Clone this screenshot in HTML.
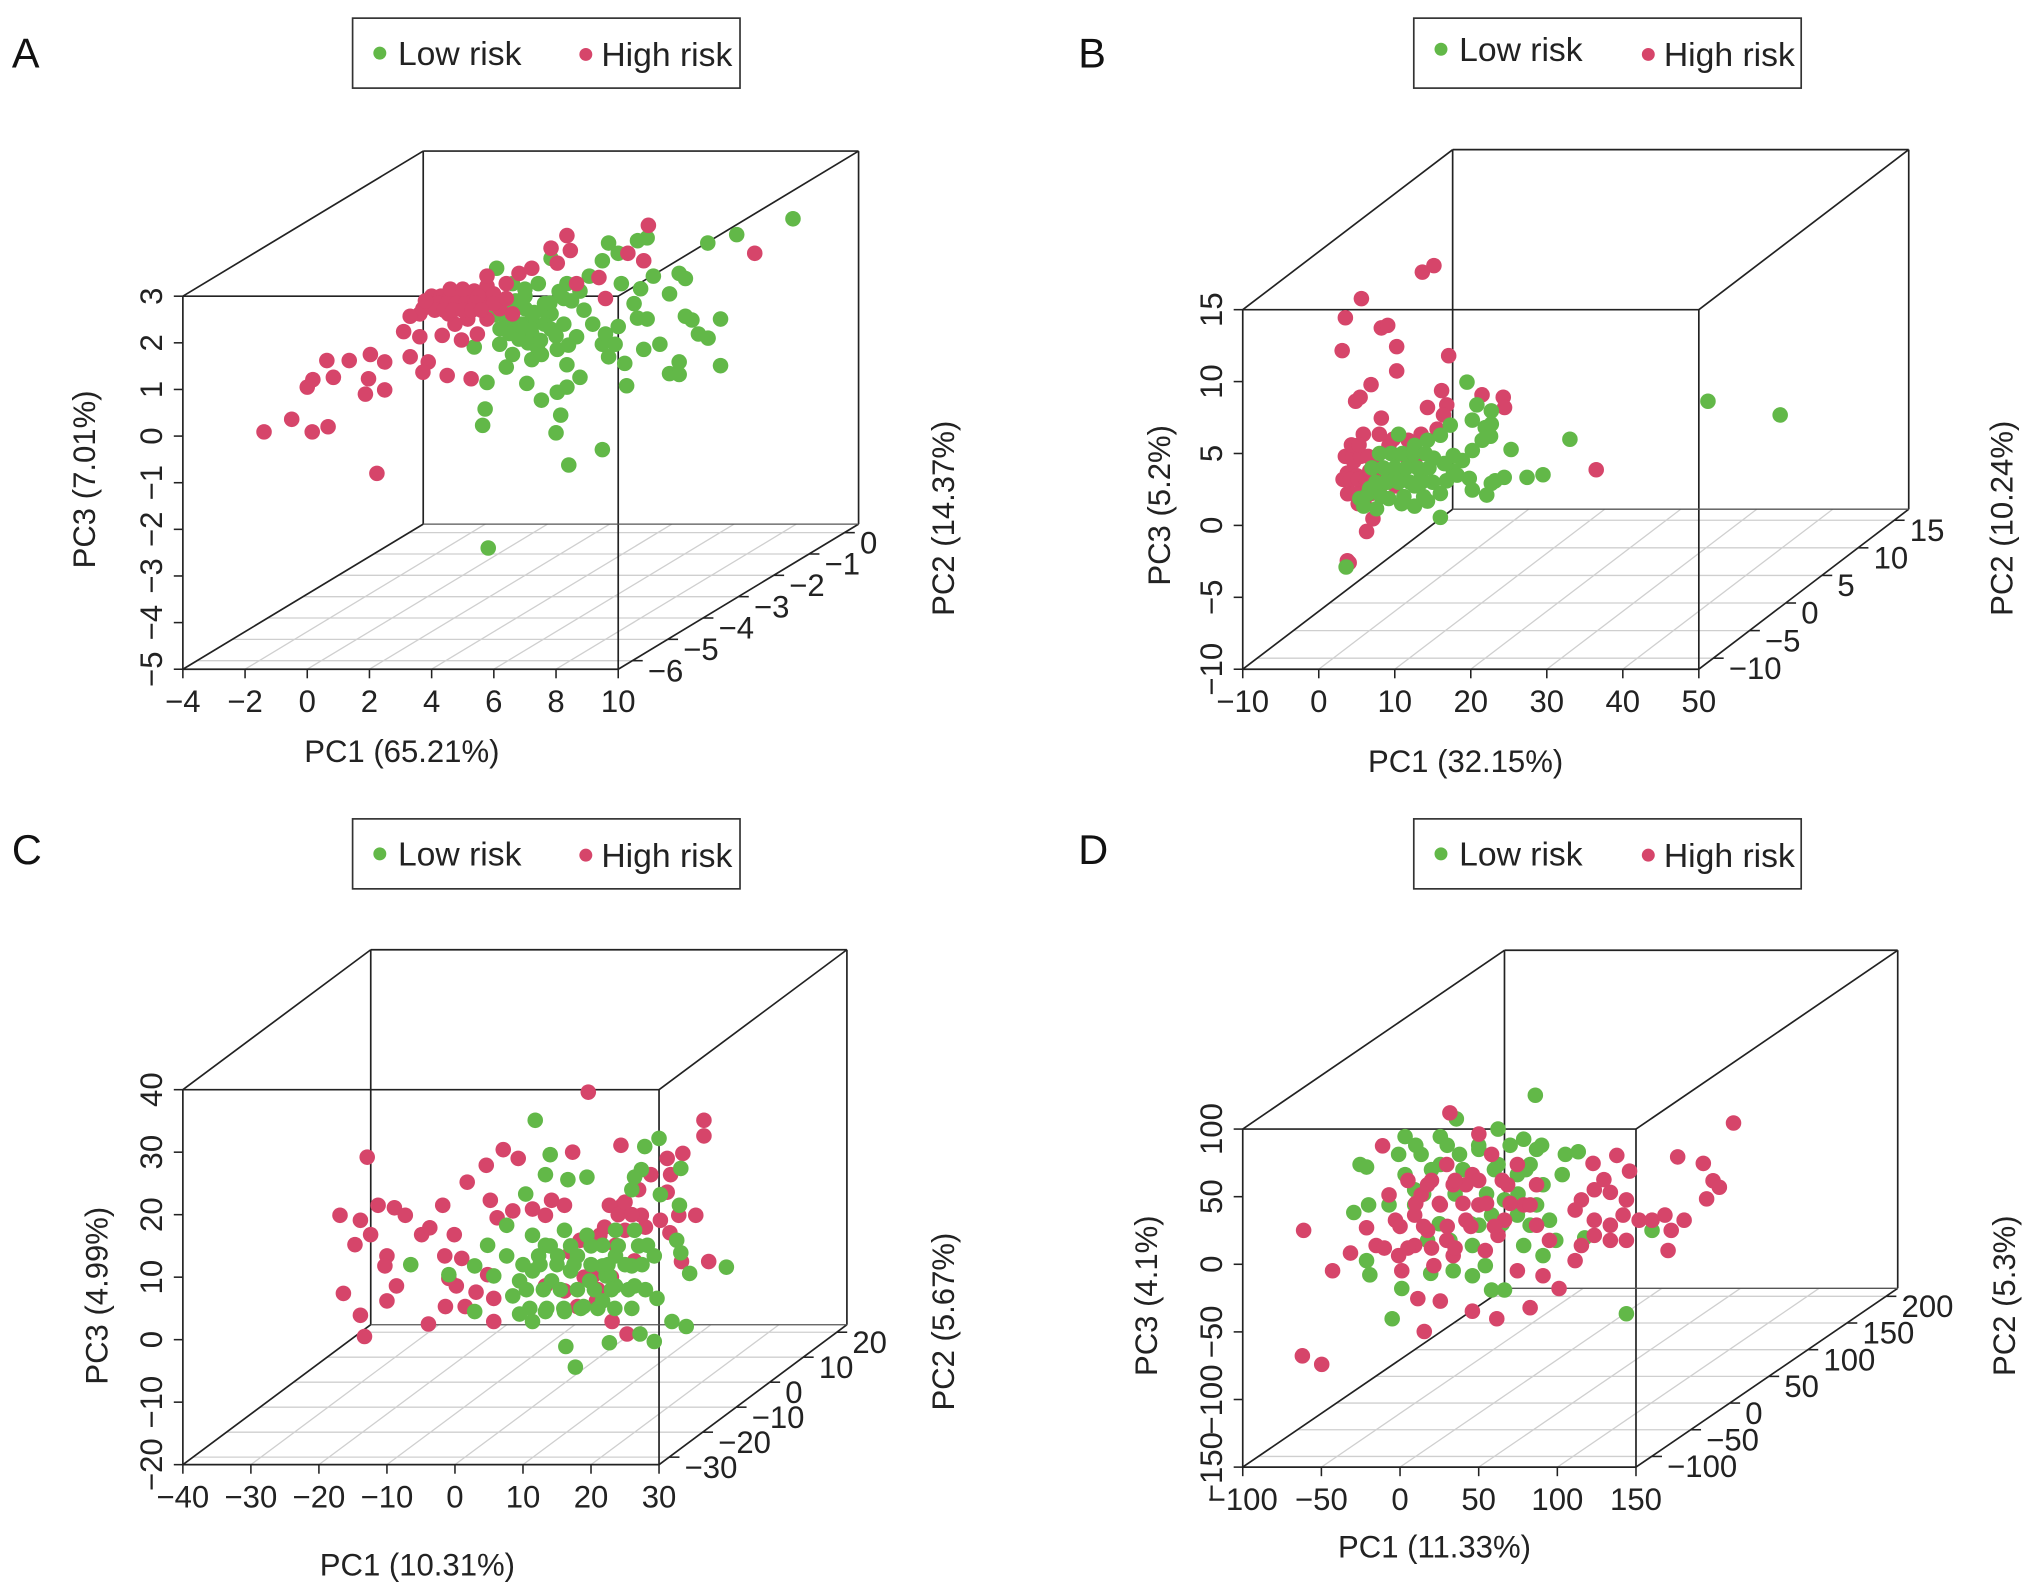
<!DOCTYPE html>
<html><head><meta charset="utf-8">
<style>
html,body{margin:0;padding:0;background:#fff;}
svg{display:block;font-family:"Liberation Sans",Arial,sans-serif;}
</style></head>
<body>
<svg id="fig" xmlns="http://www.w3.org/2000/svg" width="2032" height="1595" viewBox="0 0 1568 1231">
<rect x="0" y="0" width="1568" height="1231" fill="#fff"/>
</svg>
<script>
// ---- Panel A data ----
const aLowPC1=[15.62,13.81,12.88,11.96,12.16,11.65,13.29,12.37,12.58,12.89,12.16,11.34,10.82,13.29,11.96,11.65,11.96,10.27,10.21,9.69,9.49,10.62,10.93,10.0,10.51,11.13,10.72,10.10,9.69,10.0,10.62,10.93,9.49,9.07,8.77,8.35,8.25,7.84,8.25,8.66,8.04,7.53,7.22,8.35,8.77,8.35,8.04,7.53,8.15,8.0,9.49,8.41,5.78,5.72,5.64,7.06,6.40,6.60,5.37,6.19,7.22,6.81,7.01,7.63,7.43,6.60,6.09,7.84,9.18,9.59,9.90,5.82,7.22,7.63,6.81,6.40,7.84,
 6.3,6.6,6.9,7.2,6.5,6.8,7.1,7.4,6.2,6.7,7.0,7.6,6.4,6.9,7.3,7.8,8.1,8.5,8.9,6.0,6.2,7.5,8.0,8.4,6.6,7.0];
const aLowPC3=[4.66,4.32,4.14,3.49,3.38,3.05,2.51,2.49,2.19,2.10,2.57,1.97,1.86,1.51,1.59,1.34,1.32,1.08,1.56,1.70,1.97,2.53,2.51,2.35,2.84,3.43,3.16,3.27,4.14,3.92,4.19,4.25,3.76,3.43,3.11,3.27,2.95,2.62,2.40,2.13,1.86,1.75,1.64,1.53,1.26,1.05,0.94,0.77,0.45,0.07,-0.29,-0.62,1.15,0.58,0.23,1.13,1.48,1.75,1.91,1.97,2.19,2.40,2.73,2.84,3.27,3.27,3.60,3.81,2.40,2.19,1.97,-2.40,2.51,2.40,2.08,2.29,2.29,
 2.6,2.5,2.4,2.3,2.2,2.1,2.0,1.9,2.8,2.9,3.0,2.7,2.45,2.35,2.65,2.85,3.1,2.9,2.7,2.6,2.3,2.05,2.15,1.95,2.75,3.15];
const aHighPC1=[-1.39,-0.5,0.16,0.67,2.24,0.0,0.18,0.84,0.63,1.35,2.03,2.49,1.97,1.87,2.49,3.31,3.89,3.72,4.50,5.27,3.10,3.62,4.34,4.96,5.47,3.62,4.13,3.31,4.54,4.96,5.78,6.40,6.81,7.22,7.84,8.35,8.46,8.04,9.38,10.31,10.82,10.97,14.39,6.19,6.60,5.37,5.78,4.96,5.57,5.99,4.34,5.16,4.75,3.72,8.66,9.59,4.75,5.37,5.99,6.40,4.54,5.78,
 4.0,4.3,4.6,4.9,5.2,5.5,3.9,4.2,4.5,4.8,5.1,5.4,4.1,4.4,4.7,5.0,5.3,5.6,3.8,4.6,5.0];
const aHighPC3=[0.09,0.36,0.09,0.2,-0.8,1.05,1.21,1.26,1.62,1.62,1.75,1.59,1.23,0.9,0.99,1.70,1.59,1.37,1.30,1.23,2.24,2.13,2.16,2.06,2.19,2.62,2.78,2.57,3.05,3.11,3.22,3.27,3.49,3.60,4.03,4.30,3.98,3.71,3.40,3.92,3.76,4.52,3.92,2.73,2.62,2.84,2.51,2.73,2.95,3.05,2.95,2.51,2.40,2.73,3.27,2.95,2.84,3.11,2.84,2.95,2.62,3.43,
 3.0,3.0,3.0,3.0,3.0,3.0,2.85,2.85,2.85,2.85,2.85,2.85,2.7,2.7,2.7,2.7,2.7,2.7,2.9,3.15,3.15];
// ---- Panel B data ----
const bLowPC1=[51.2,60.7,33.04,29.5,27.4,24.4,23.2,22.7,25.3,22.1,20.2,19.8,19.5,22.7,20.8,20.2,22.6,21.5,20.2,18.9,17.7,16.8,16.0,14.3,12.6,10.9,9.2,8.0,6.7,5.4,5.9,7.6,10.5,12.6,14.3,16.0,17.3,10.1,11.8,13.5,15.1,9.2,10.9,12.6,16.0,3.6,21.9,22.7,17.7,
 7.0,8.5,10.0,11.5,13.0,14.5,7.5,9.0,10.5,12.0,13.5,15.0,8.0,9.5,11.0,12.5,14.0,6.5,8.2,11.2,13.8,16.5,18.2];
const bLowPC3=[8.63,7.68,5.99,3.52,3.34,3.34,3.10,2.92,5.28,2.11,2.46,3.27,9.96,7.96,8.38,7.32,6.2,5.92,5.21,4.51,3.80,3.10,2.22,1.69,1.34,1.51,1.87,2.22,2.57,1.87,1.34,1.16,6.34,5.56,5.92,6.27,6.97,4.86,4.16,3.63,4.68,3.45,3.45,2.75,0.56,-2.89,6.8,7.04,4.86,
 4.0,4.0,4.0,4.0,4.0,4.0,3.0,3.0,3.0,3.0,3.0,3.0,5.0,5.0,5.0,5.0,5.0,2.2,2.0,2.0,2.0,4.3,3.5];
const bHighPC1=[15.15,13.63,5.61,3.50,8.23,9.07,10.25,3.08,17.09,10.25,6.88,5.44,4.85,16.16,21.48,24.27,24.44,16.84,14.30,16.41,8.23,5.86,7.97,13.46,15.57,11.77,36.5,4.6,3.76,5.02,6.71,8.82,5.86,7.97,5.19,6.03,7.13,6.29,3.76,4.0,9.24,11.35,12.62,10.08,7.55,
 3.5,4.5,5.5,6.5,3.2,4.2,5.2,6.2,7.2,3.8,4.8,5.8,6.8,4.3,5.3,9.8,12.0];
const bHighPC3=[18.06,17.61,15.77,14.44,13.73,13.91,12.43,12.15,11.80,10.74,9.79,8.91,8.63,9.37,9.08,8.91,8.20,8.38,8.20,7.68,7.46,6.34,6.34,6.34,6.69,5.92,3.87,4.44,3.63,3.45,3.80,3.63,2.75,2.57,1.51,1.41,0.46,-0.42,-2.46,-2.6,5.56,4.86,4.51,2.75,4.68,
 4.8,4.8,4.8,4.8,3.2,3.2,3.2,3.2,3.2,2.2,2.2,2.2,2.2,5.6,5.6,6.0,5.2];
// ---- Panel C data ----
const cLowPC1=[11.8,39.9,34.0,31.9,17.7,16.3,22.7,27.2,-6.5,-0.9,2.9,30.0,27.9,33.2,27.4,26.4,26.0,30.2,19.4,16.6,14.0,13.3,10.4,7.6,11.4,13.3,16.1,19.4,21.7,23.6,26.0,28.3,29.3,32.6,33.2,34.5,33.0,29.7,26.4,23.6,21.7,18.9,16.1,13.3,11.4,9.5,8.5,9.5,11.4,14.2,17.0,19.8,22.7,5.7,7.6,4.8,2.9,29.3,22.2,18.0,15.1,12.3,21.7,23.6,26.4,
 10,12.5,15,17.5,20,22.5,25,27.5,10.5,13,15.5,18,20.5,23,25.5,28,11,13.5,16,18.5,21,23.5,26,14,17,20,24,27];
const cLowPC3=[35.1,11.6,2.1,2.9,-4.4,-1.1,-0.5,0.9,12.0,10.4,4.5,32.2,30.9,27.4,27.2,26.0,24.0,23.2,26.0,25.6,29.6,26.4,23.3,18.3,16.7,15.1,17.5,16.7,15.1,13.4,11.8,15.1,13.4,15.9,13.9,10.6,21.5,6.6,8.6,8.6,6.2,5.3,4.5,4.5,2.9,4.1,7.0,9.4,11.0,9.4,11.0,9.4,10.2,10.2,13.4,15.1,11.8,-0.3,10.2,13.4,13.4,13.4,11.8,17.5,17.5,
 12,12,12,12,12,12,12,12,8,8,8,8,8,8,8,8,5,5,5,5,5,5,5,15,15,15,15,15];
const cHighPC1=[19.6,36.6,36.6,-12.9,7.1,9.3,4.6,1.8,17.3,24.4,31.2,33.5,31.7,28.8,-16.9,-13.9,-11.3,-8.9,-7.3,-12.4,-14.7,-10.0,-10.3,-8.6,-10.0,-16.4,-13.9,-13.3,-4.9,-3.7,-1.8,-0.1,-1.5,1.0,-0.9,0.2,-3.9,-1.4,1.5,3.1,5.7,5.2,6.2,8.5,11.4,14.2,16.1,13.3,4.8,5.7,31.2,32.9,35.4,37.3,33.3,31.6,30.2,27.4,24.6,22.7,23.1,25.3,20.8,18.0,20.3,16.1,13.3,21.3,18.4,23.6,26.4,25.0,
 24,26,28,22,25,27,23,19,21,17];
const cHighPC3=[39.6,35.1,32.6,29.2,30.4,29.0,27.9,25.2,30.0,31.1,29.0,29.8,26.4,26.4,19.9,19.1,21.5,21.1,19.9,16.8,15.2,13.4,11.8,8.6,6.2,7.4,3.9,0.5,16.8,17.9,21.5,16.8,13.4,13.0,9.8,8.6,2.5,5.3,5.3,7.6,6.6,22.3,19.5,20.6,20.9,22.3,21.5,19.9,10.4,2.9,23.6,19.9,19.9,12.5,12.5,17.1,19.1,19.9,21.5,21.5,2.9,0.9,6.2,5.3,10.2,7.8,8.6,16.7,15.9,15.1,12.6,17.5,
 20,20,18,18,22,24,10,10,8,14];
// ---- Panel D data ----
const dLowPC1=[86,143.9,-5,1.1,58.2,66.4,-25.4,-21.3,-29.4,-20,-21.3,-19.2,3.2,25.6,35.8,62.3,78.6,86.8,113.3,105.1,103.1,90.9,86.8,95,99,90.9,78.6,82.7,74.6,66.4,58.2,50.1,46,54.2,33.8,19.5,17.5,9.3,3.2,-0.9,13.4,25.6,37.8,50.1,62.3,74.6,82.7,160.2,117.4,46,31.7,-7,9.3,
 10,30,50,70,90,20,40,60,80,15,35,55,75,25,45,65];
const dLowPC3=[125,-36.6,-40.3,-17.9,-19.0,-19.0,73.8,71.9,38.3,43.9,2.7,-7.8,94.4,94.4,107.5,100,92.5,85,83.2,81.3,66.3,58.8,43.9,32.6,17.7,6.4,13.9,28.9,36.4,47.6,36.4,28.9,13.9,-1.0,-4.8,-6.7,17.7,43.9,66.3,81.3,81.3,73.8,81.3,85.0,73.8,66.3,73.8,25.1,19.5,-8.5,17.7,43.9,55.1,
 88,88,88,88,88,70,70,70,70,52,52,52,52,30,30,30];
const dHighPC1=[212,31.7,176.5,192.8,199,203,194.9,137.8,145.9,122.7,129.6,123.5,133.7,143.9,115.3,111.3,123.5,133.7,141.8,152,160.2,168.4,180.6,172.4,170.4,143.9,133.7,123.5,115.3,111.3,101.1,-61.3,-42.9,-31.5,-62.1,-49.8,-11.1,-21.3,-15.2,-0.9,1.1,11.3,25.6,15.4,46,61.5,82.7,74.6,90.9,95,86.8,78.6,68.4,58.2,50.1,46,33.8,25.6,13.4,9.3,17.5,29.7,41.9,50.1,62.3,54.2,33.8,21.5,9.3,-2.9,-7,66.4,82.7,86.8,74.6,29.7,17.5,41.9,
 5,20,35,50,65,10,25,40,55,70,0,15,30,45,60,-10,5,20,35];
const dHighPC3=[104.5,112,79.4,74.6,61.8,57,48.4,80.5,68.9,74.6,62.6,55.1,53.2,47.6,47.6,40.1,32.6,28.9,36.4,32.6,32.6,36.4,32.6,25.1,10.2,17.7,17.7,21.4,13.9,2.7,-17.9,25.1,-4.8,8.3,-67.7,-74.0,87.6,27.0,13.9,6.4,-4.8,-25.4,-27.2,-49.7,-34.7,-40.3,-32.1,-4.8,-8.5,17.7,28.9,43.9,58.8,81.3,96.3,66.3,58.8,43.9,51.3,36.4,25.1,17.7,32.6,43.9,21.4,10.2,6.4,-1.0,13.9,32.6,51.3,32.6,43.9,58.8,73.8,73.8,58.8,58.8,
 62,62,62,62,62,45,45,45,45,45,28,28,28,28,28,12,12,12,12];
// ---- Axis ticks ----
const aXTicks=[-4,-2,0,2,4,6,8,10], aZTicks=[-5,-4,-3,-2,-1,0,1,2,3], aYTicks=[-6,-5,-4,-3,-2,-1,0];
const bXTicks=[-10,0,10,20,30,40,50], bZTicks=[-10,-5,0,5,10,15], bYTicks=[-10,-5,0,5,10,15];
const cXTicks=[-40,-30,-20,-10,0,10,20,30], cZTicks=[-20,-10,0,10,20,30,40], cYTicks=[-30,-20,-10,0,10,20];
const dXTicks=[-100,-50,0,50,100,150], dZTicks=[-150,-100,-50,0,50,100], dYTicks=[-100,-50,0,50,100,150,200];
const axisTitles={A:["PC1 (65.21%)","PC2 (14.37%)","PC3 (7.01%)"],B:["PC1 (32.15%)","PC2 (10.24%)","PC3 (5.2%)"],C:["PC1 (10.31%)","PC2 (5.67%)","PC3 (4.99%)"],D:["PC1 (11.33%)","PC2 (5.3%)","PC3 (4.1%)"]};

const NS="http://www.w3.org/2000/svg";
const svg=document.getElementById('fig');
const GREEN="#62b848", RED="#d6456a";
function mk(tag,attrs,parent){const e=document.createElementNS(NS,tag);for(const k in attrs)e.setAttribute(k,attrs[k]);(parent||svg).appendChild(e);return e;}

function panel(id,g,xt,zt,yt,low1,low3,high1,high3,redOnTop){
  const grp=mk('g',{});
  
  
  const X=v=>(v-g.xr[0])/(g.xr[1]-g.xr[0])*(g.fr-g.fl);
  const Z=v=>(v-g.zr[0])/(g.zr[1]-g.zr[0])*(g.fb-g.ft);
  const T=v=>(v-g.yr[0])/(g.yr[1]-g.yr[0]);
  const P=(x,y,z)=>[g.fl+X(x)+T(y)*g.dx, g.fb-Z(z)+T(y)*g.dy];
  const line=(a,b,col,w,name)=>{const l=mk('line',{x1:a[0],y1:a[1],x2:b[0],y2:b[1],stroke:col,'stroke-width':w},grp);return l;};
  const [x0,x1]=g.xr,[y0,y1]=g.yr,[z0,z1]=g.zr;
  for(const t of yt){line(P(x0,t,z0),P(x1,t,z0),'#cfcfcf',1,'floor-grid-pc2');}
  for(const t of xt){line(P(t,y0,z0),P(t,y1,z0),'#cfcfcf',1,'floor-grid-pc1');}
  const K='#222',W=1.3;
  line(P(x0,y0,z0),P(x1,y0,z0),K,W,'x-axis');
  line(P(x0,y0,z0),P(x0,y0,z1),K,W,'z-axis');
  line(P(x1,y0,z0),P(x1,y0,z1),K,W,'box-edge');
  line(P(x0,y0,z1),P(x1,y0,z1),K,W,'box-edge');
  line(P(x0,y1,z1),P(x1,y1,z1),K,W,'box-edge');
  line(P(x0,y1,z0),P(x0,y1,z1),K,W,'box-edge');
  line(P(x1,y1,z0),P(x1,y1,z1),K,W,'box-edge');
  line(P(x0,y0,z1),P(x0,y1,z1),K,W,'box-edge');
  line(P(x1,y0,z1),P(x1,y1,z1),K,W,'box-edge');
  line(P(x1,y0,z0),P(x1,y1,z0),K,W,'y-axis');
  line(P(x0,y0,z0),P(x0,y1,z0),K,W,'box-edge');
  line(P(x0,y1,z0),P(x1,y1,z0),'#555',1,'box-edge');
  const fs=24;
  for(const t of xt){const p=P(t,y0,z0);line(p,[p[0],p[1]+7],K,1.2,'x-tick');
    const tx=mk('text',{x:p[0],y:p[1]+33,'font-size':fs,'text-anchor':'middle',fill:'#222'},grp);tx.textContent=String(t).replace('-','\u2212');
    }
  for(const t of zt){const p=P(x0,y0,t);line(p,[p[0]-7,p[1]],K,1.2,'z-tick');
    const tx=mk('text',{x:0,y:0,'font-size':fs,'text-anchor':'middle',fill:'#222',transform:`translate(${p[0]-16},${p[1]}) rotate(-90)`},grp);tx.textContent=String(t).replace('-','\u2212');
    }
  for(const t of yt){const p=P(x1,t,z0);line(p,[p[0]+8,p[1]],K,1.2,'y-tick');
    const tx=mk('text',{x:p[0]+12,y:p[1]+16,'font-size':fs,'text-anchor':'start',fill:'#222'},grp);tx.textContent=String(t).replace('-','\u2212');
    }
  const tt=axisTitles[id];
  let e=mk('text',{x:g.t1[0],y:g.t1[1],'font-size':fs,'text-anchor':'middle',fill:'#222'},grp);e.textContent=tt[0];
  
  e=mk('text',{x:0,y:0,'font-size':fs,'text-anchor':'middle',fill:'#222',transform:`translate(${g.t3[0]},${g.t3[1]}) rotate(-90)`},grp);e.textContent=tt[2];
  
  e=mk('text',{x:0,y:0,'font-size':fs,'text-anchor':'middle',fill:'#222',transform:`translate(${g.t2[0]},${g.t2[1]}) rotate(-90)`},grp);e.textContent=tt[1];
  
  const drawSet=(a1,a3,col,name)=>{const sg=mk('g',{},grp);
    for(let i=0;i<a1.length;i++){const p=P(a1[i],y0,a3[i]);const c=mk('circle',{cx:p[0],cy:p[1],r:6,fill:col},sg);
      }};
  if(redOnTop){drawSet(low1,low3,GREEN,'low-risk-points');drawSet(high1,high3,RED,'high-risk-points');}
  else{drawSet(high1,high3,RED,'high-risk-points');drawSet(low1,low3,GREEN,'low-risk-points');}
  const L=g.leg;
  const lg=mk('g',{},grp);
  mk('rect',{x:L[0],y:L[1],width:299,height:54,fill:'#fff',stroke:'#333','stroke-width':1.3},lg);
  let c=mk('circle',{cx:L[0]+21,cy:L[1]+L[2],r:5,fill:GREEN},lg);
  let t=mk('text',{x:L[0]+35,y:L[1]+L[2]+9,'font-size':26,fill:'#222'},lg);t.textContent='Low risk';
  c=mk('circle',{cx:L[0]+L[3],cy:L[1]+28,r:5,fill:RED},lg);
  t=mk('text',{x:L[0]+L[3]+12,y:L[1]+37,'font-size':26,fill:'#222'},lg);t.textContent='High risk';
  t=mk('text',{x:g.let[0],y:g.let[1],'font-size':32,fill:'#111'},grp);t.textContent=id;
}

panel('A',{fl:141,fr:477,ft:228.6,fb:516.5,dx:185.5,dy:-112,xr:[-4,10],zr:[-5,3],yr:[-6.4,0.4],
  t1:[310,588],t3:[73,370],t2:[736,400],leg:[272,14,27,180],let:[9,52]},aXTicks,aZTicks,aYTicks,aLowPC1,aLowPC3,aHighPC1,aHighPC3,true);
panel('B',{fl:959,fr:1311,ft:239,fb:516.5,dx:162,dy:-123.5,xr:[-10,50],zr:[-10,15],yr:[-12,17],
  t1:[1131,596],t3:[903,390],t2:[1553,400],leg:[1091,14,24,181],let:[832,52]},bXTicks,bZTicks,bYTicks,bLowPC1,bLowPC3,bHighPC1,bHighPC3,false);
panel('C',{fl:141,fr:508.5,ft:841,fb:1130.4,dx:145,dy:-108,xr:[-40,30],zr:[-20,40],yr:[-33,23],
  t1:[322,1216],t3:[83,1000],t2:[736,1020],leg:[272,632,27,180],let:[9,667]},cXTicks,cZTicks,cYTicks,cLowPC1,cLowPC3,cHighPC1,cHighPC3,false);
panel('D',{fl:959,fr:1262.5,ft:871.4,fb:1132.3,dx:202,dy:-138,xr:[-100,150],zr:[-150,100],yr:[-120,215],
  t1:[1107,1202],t3:[893,1000],t2:[1555,1000],leg:[1091,632,27,181],let:[832,667]},dXTicks,dZTicks,dYTicks,dLowPC1,dLowPC3,dHighPC1,dHighPC3,true);
</script>
</body></html>
